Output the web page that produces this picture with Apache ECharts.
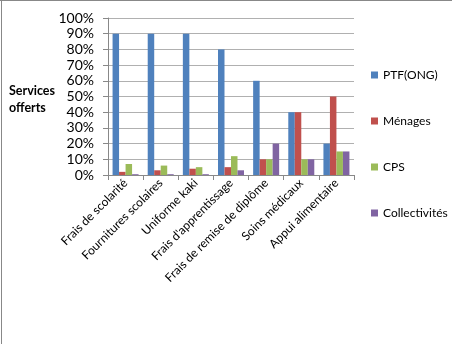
<!DOCTYPE html>
<html><head><meta charset="utf-8">
<script src="https://cdn.jsdelivr.net/npm/echarts@6/dist/echarts.min.js"></script>
<style>html,body{margin:0;padding:0;background:#fff}#c{width:452px;height:344px}</style>
</head><body><div id="c"></div>
<script>
const categories = ["Frais de scolarité","Fournitures scolaires","Uniforme kaki","Frais d'apprentissage","Frais de remise de diplôme","Soins médicaux","Appui alimentaire"];
const seriesNames = ["PTF(ONG)","Ménages","CPS","Collectivités"];
const ptf = [90,90,90,80,60,40,20];
const menages = [2,3,4,5,10,40,50];
const cps = [7,6,5,12,10,10,15];
const collectivites = [0.5,0.5,0.5,3,20,10,15];
const colors = ["#4F81BD","#C0504D","#9BBB59","#8064A2"];
const yTicks = [0,10,20,30,40,50,60,70,80,90,100];
const values = [ptf, menages, cps, collectivites];
const font = "Lato, 'Open Sans', sans-serif";
const chart = echarts.init(document.getElementById('c'));
chart.setOption({
  animation:false,
  textStyle:{fontFamily:font},
  grid:{left:108, top:18, width:246, bottom:169, containLabel:false},
  title:{text:"Services\nofferts", left:4, top:77, textStyle:{fontSize:12.5, fontWeight:'bold', color:'#000', lineHeight:17, fontFamily:font}},
  legend:{orient:'vertical', left:366, top:63, itemWidth:7, itemHeight:7, itemGap:32, itemTextGap:4, icon:'rect',
    textStyle:{fontSize:12, color:'#000', lineHeight:14, fontFamily:font}, data:seriesNames},
  xAxis:{type:'category', data:categories,
    axisLine:{lineStyle:{color:'#888'}},
    axisTick:{show:true, length:5, lineStyle:{color:'#888'}},
    axisLabel:{rotate:45, fontSize:12, color:'#000', margin:6, interval:0}},
  yAxis:{type:'value', min:yTicks[0], max:yTicks[yTicks.length-1], interval:10,
    axisLine:{show:true, lineStyle:{color:'#888'}},
    axisTick:{show:true, length:5, lineStyle:{color:'#888'}},
    axisLabel:{formatter:'{value}%', fontSize:14, color:'#000', margin:14},
    splitLine:{lineStyle:{color:'#b0b0b0'}}},
  series: seriesNames.map((n,i)=>({name:n, type:'bar', data:values[i], barGap:'0%', barCategoryGap:'26%', itemStyle:{color:colors[i]}})),
  graphic:[
    {type:'line', shape:{x1:0,y1:0.5,x2:452,y2:0.5}, style:{stroke:'#888', lineWidth:1}},
    {type:'line', shape:{x1:1.5,y1:0,x2:1.5,y2:344}, style:{stroke:'#888', lineWidth:1}}
  ]
});
</script></body></html>
